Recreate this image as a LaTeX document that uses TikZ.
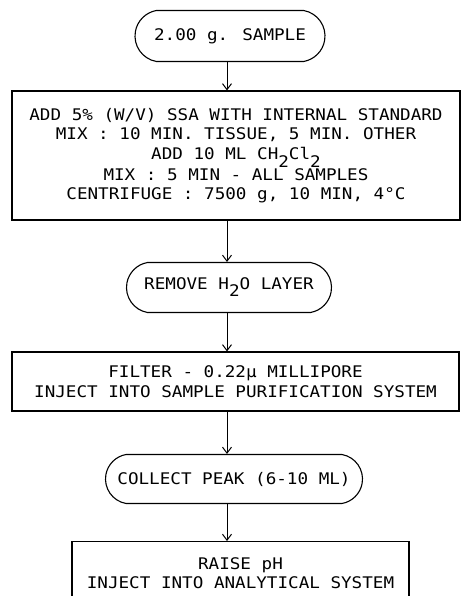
\documentclass[tikz,border=0pt]{standalone}
\usepackage{fontspec}
\newfontfamily\tw{DejaVu Sans Mono}[FakeStretch=1.1]
\usetikzlibrary{arrows.meta,shapes.misc}
\newcommand{\lowsub}[2]{\raisebox{-#1}{#2}}
\tikzset{
  every node/.style={font=\tw\fontsize{16}{19.5}\selectfont, align=center, inner sep=0pt},
  stadium/.style={draw, line width=1.1pt, rounded rectangle, rounded rectangle arc length=160},
  procbox/.style={draw, line width=1.1pt},
  arr/.style={line width=1pt, -{Straight Barb[length=6pt,width=9pt,line width=1pt]}}
}
\begin{document}
\begin{tikzpicture}[x=1pt,y=-1pt]
\useasboundingbox (0,0) rectangle (461,596);
\clip (0,0) rectangle (461,596);
\node[stadium, minimum width=190pt, minimum height=51pt] (s1) at (230,36) {2.00 g. SAMPLE};
\node[procbox, minimum width=448pt, minimum height=129pt] (b1) at (236,155.5)
  {ADD 5\% (W/V) SSA WITH INTERNAL STANDARD\\
   MIX : 10 MIN. TISSUE, 5 MIN. OTHER\\
   ADD 10 ML CH\lowsub{8pt}{2}Cl\lowsub{8pt}{2}\\
   MIX : 5 MIN - ALL SAMPLES\\
   CENTRIFUGE : 7500 g, 10 MIN, 4°C};
\node[stadium, minimum width=205pt, minimum height=50pt] (s2) at (229,287.5) {REMOVE H\lowsub{7pt}{2}O LAYER};
\node[procbox, minimum width=447pt, minimum height=59pt] (b2) at (235.5,381.5)
  {FILTER - 0.22µ MILLIPORE\\
   INJECT INTO SAMPLE PURIFICATION SYSTEM};
\node[stadium, minimum width=257pt, minimum height=49pt] (s3) at (234,479) {COLLECT PEAK (6-10 ML)};
\node[procbox, minimum width=337pt, anchor=north, inner ysep=16pt] (b3) at (240.5,541)
  {RAISE pH\\
   INJECT INTO ANALYTICAL SYSTEM};
\coordinate (ax) at (227,0);
\draw[arr] (s1.south -| ax) -- (b1.north -| ax);
\draw[arr] (b1.south -| ax) -- (s2.north -| ax);
\draw[arr] (s2.south -| ax) -- (b2.north -| ax);
\draw[arr] (b2.south -| ax) -- (s3.north -| ax);
\draw[arr] (s3.south -| ax) -- (b3.north -| ax);
\end{tikzpicture}
\end{document}
